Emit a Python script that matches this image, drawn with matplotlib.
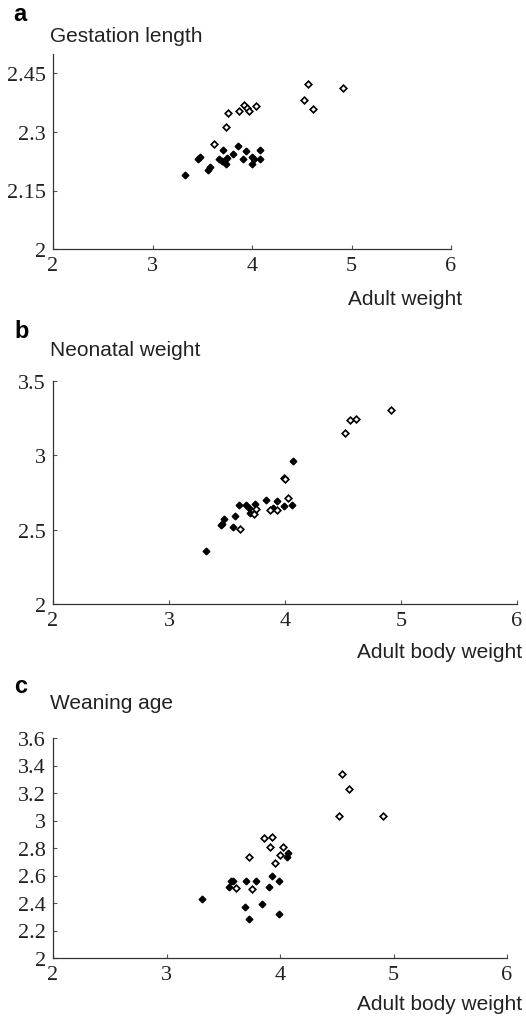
import matplotlib
matplotlib.use("Agg")
import matplotlib.pyplot as plt
from matplotlib.ticker import FuncFormatter

# Panel a: gestation length vs adult weight
gest_open_x = [3.62, 3.74, 3.76, 3.87, 3.92, 3.95, 3.97, 4.04, 4.52, 4.56, 4.61, 4.91]
gest_open_y = [2.270, 2.312, 2.349, 2.353, 2.369, 2.362, 2.355, 2.366, 2.381, 2.423, 2.359, 2.412]
gest_fill_x = [3.33, 3.46, 3.48, 3.56, 3.58, 3.67, 3.70, 3.71, 3.74, 3.75,
               3.81, 3.86, 3.91, 3.94, 4.00, 4.00, 4.02, 4.08, 4.08]
gest_fill_y = [2.190, 2.230, 2.236, 2.203, 2.209, 2.230, 2.225, 2.255, 2.217, 2.233,
               2.243, 2.264, 2.231, 2.251, 2.237, 2.219, 2.230, 2.231, 2.255]

# Panel b: neonatal weight vs adult body weight
neo_open_x = [3.61, 3.73, 3.75, 3.87, 3.93, 3.99, 4.00, 4.03, 4.52, 4.56, 4.61, 4.91]
neo_open_y = [2.504, 2.604, 2.638, 2.631, 2.631, 2.850, 2.842, 2.712, 3.148, 3.240, 3.247, 3.303]
neo_fill_x = [3.32, 3.45, 3.46, 3.47, 3.55, 3.57, 3.60, 3.66, 3.69, 3.70,
              3.74, 3.84, 3.90, 3.93, 3.99, 4.06, 4.07]
neo_fill_y = [2.358, 2.530, 2.536, 2.573, 2.517, 2.589, 2.667, 2.665, 2.649, 2.611,
              2.672, 2.701, 2.647, 2.690, 2.656, 2.669, 2.963]

# Panel c: weaning age vs adult body weight
wean_open_x = [3.61, 3.73, 3.75, 3.86, 3.91, 3.93, 3.96, 4.00, 4.03, 4.52, 4.55, 4.61, 4.91]
wean_open_y = [2.509, 2.737, 2.499, 2.875, 2.805, 2.880, 2.688, 2.747, 2.805, 3.033, 3.341, 3.227, 3.035]
wean_fill_x = [3.31, 3.55, 3.57, 3.59, 3.69, 3.70, 3.73, 3.79, 3.84, 3.90,
               3.93, 3.99, 3.99, 4.06, 4.07]
wean_fill_y = [2.432, 2.519, 2.562, 2.562, 2.371, 2.562, 2.281, 2.562, 2.395, 2.519,
               2.594, 2.562, 2.320, 2.732, 2.766]

x_ticks = [2, 3, 4, 5, 6]
gest_ticks = [2, 2.15, 2.3, 2.45]
neo_ticks = [2, 2.5, 3, 3.5]
wean_ticks = [2, 2.2, 2.4, 2.6, 2.8, 3, 3.2, 3.4, 3.6]

W, H = 526, 1020
fig = plt.figure(figsize=(W / 100, H / 100), dpi=100)

serif = "Liberation Serif"
sans = "Liberation Sans"


def px_axes(left, right, top, bottom):
    return fig.add_axes([left / W, 1 - bottom / H, (right - left) / W, (bottom - top) / H])


def style(ax, ylim, yticks):
    ax.set_xlim(2, 6)
    ax.set_ylim(*ylim)
    ax.set_xticks(x_ticks)
    ax.set_yticks(yticks)
    fmt = FuncFormatter(lambda v, p: "%g" % v)
    ax.xaxis.set_major_formatter(fmt)
    ax.yaxis.set_major_formatter(fmt)
    for s in ["top", "right"]:
        ax.spines[s].set_visible(False)
    for s in ["left", "bottom"]:
        ax.spines[s].set_color("#333333")
        ax.spines[s].set_linewidth(0.9)
    ax.tick_params(direction="in", length=3, width=0.8, color="#555555",
                   labelsize=16, pad=5)
    for lab in ax.get_xticklabels() + ax.get_yticklabels():
        lab.set_family(serif)
        lab.set_color("#222222")


def points(ax, ox, oy, fx, fy):
    ax.plot(fx, fy, "D", ms=3.4, mfc="black", mec="black", mew=1.0, ls="none", clip_on=False)
    ax.plot(ox, oy, "D", ms=3.4, mfc="white", mec="black", mew=1.2, ls="none", clip_on=False)


ax_a = px_axes(53, 451, 55, 250)
points(ax_a, gest_open_x, gest_open_y, gest_fill_x, gest_fill_y)
style(ax_a, (2, 2.5), gest_ticks)

ax_b = px_axes(53, 517, 382, 605)
points(ax_b, neo_open_x, neo_open_y, neo_fill_x, neo_fill_y)
style(ax_b, (2, 3.5), neo_ticks)

ax_c = px_axes(53, 507, 739, 959)
points(ax_c, wean_open_x, wean_open_y, wean_fill_x, wean_fill_y)
style(ax_c, (2, 3.6), wean_ticks)


def ftext(x, y, s, **kw):
    fig.text(x / W, 1 - y / H, s, va="baseline", **kw)


# panel letters and titles
ftext(13, 21, "a", family=sans, weight="bold", fontsize=17)
ftext(50, 42, "Gestation length", family=sans, fontsize=15, color="#222222")
ftext(462, 305, "Adult weight", family=sans, fontsize=15, ha="right", color="#222222")

ftext(14, 338, "b", family=sans, weight="bold", fontsize=17)
ftext(50, 356, "Neonatal weight", family=sans, fontsize=15, color="#222222")
ftext(522, 658, "Adult body weight", family=sans, fontsize=15, ha="right", color="#222222")

ftext(14, 693, "c", family=sans, weight="bold", fontsize=17)
ftext(50, 709, "Weaning age", family=sans, fontsize=15, color="#222222")
ftext(522, 1010, "Adult body weight", family=sans, fontsize=15, ha="right", color="#222222")

fig.savefig("out.png", dpi=100)
